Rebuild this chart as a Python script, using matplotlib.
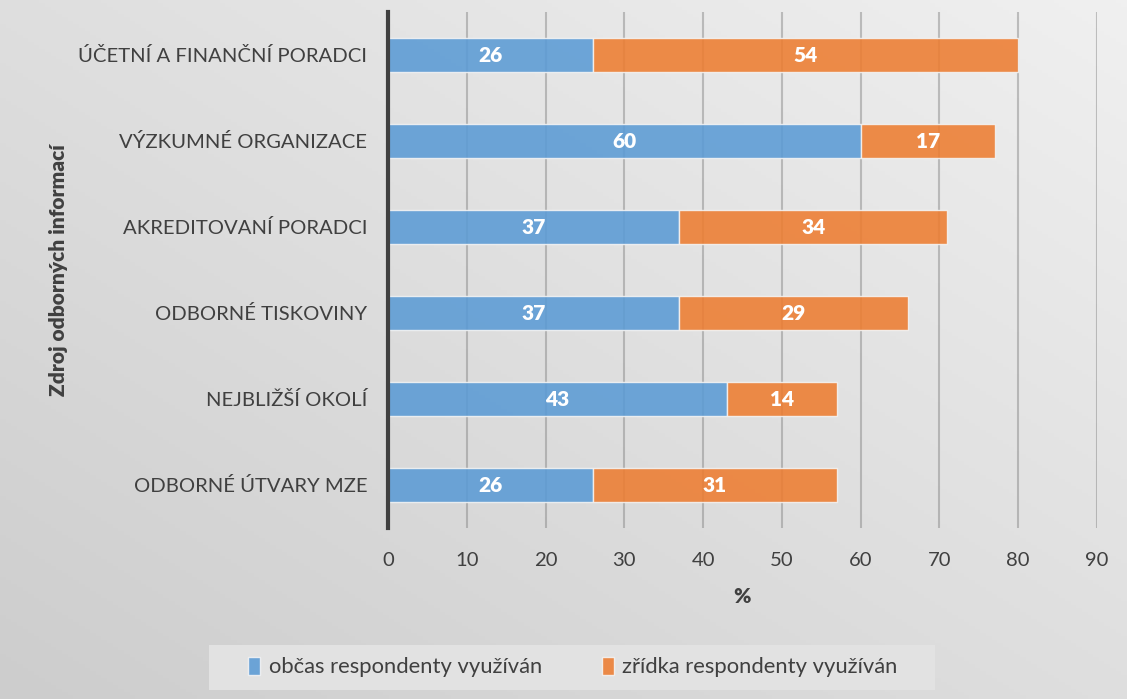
import matplotlib.pyplot as plt
from matplotlib.patches import Rectangle
import numpy as np

categories = ['ODBORNÉ ÚTVARY MZE', 'NEJBLIŽŠÍ OKOLÍ', 'ODBORNÉ TISKOVINY',
              'AKREDITOVANÍ PORADCI', 'VÝZKUMNÉ ORGANIZACE', 'ÚČETNÍ A FINANČNÍ PORADCI']
obcas = [26, 43, 37, 37, 60, 26]
zridka = [31, 14, 29, 34, 17, 54]
series_names = ['občas respondenty využíván', 'zřídka respondenty využíván']

plt.rcParams['font.family'] = ['Lato', 'DejaVu Sans']

fig = plt.figure(figsize=(11.27, 6.99), dpi=100)

# gradient background
bg = fig.add_axes([0, 0, 1, 1], zorder=-10)
gx, gy = np.meshgrid(np.linspace(0, 1, 200), np.linspace(0, 1, 200))
g = (gx + (1 - gy)) / 2
bg.imshow(g, cmap=plt.matplotlib.colors.LinearSegmentedColormap.from_list('bg', ['#cdcdcd', '#f0f0f0']),
          extent=[0, 1, 0, 1], aspect='auto', origin='upper')
bg.axis('off')
# legend box
bg.add_patch(Rectangle((209 / 1127, 1 - 690 / 699), (935 - 209) / 1127, 45 / 699,
                       facecolor='#e2e2e2', edgecolor='none', transform=bg.transAxes, zorder=2))

ax = fig.add_axes([388 / 1127, 1 - 528 / 699, (1097 - 388) / 1127, 516 / 699])
ax.patch.set_alpha(0)

y = np.arange(len(categories))
b1 = ax.barh(y, obcas, height=0.4, color='#5b9bd5', alpha=0.88, edgecolor='#f4f4f4', linewidth=1, zorder=3,
             label=series_names[0])
b2 = ax.barh(y, zridka, left=obcas, height=0.4, color='#ed7d31', alpha=0.88, edgecolor='#f4f4f4', linewidth=1,
             zorder=3, label=series_names[1])

for bars, vals, lefts in [(b1, obcas, [0] * 6), (b2, zridka, obcas)]:
    for yy, v, l in zip(y, vals, lefts):
        ax.text(l + v / 2, yy, str(v), ha='center', va='center', color='white', fontsize=15,
                fontweight='heavy', zorder=4)

ax.set_xlim(0, 90)
ax.set_ylim(-0.5, 5.5)
ax.set_xticks(range(0, 91, 10))
ax.set_yticks(y)
ax.set_yticklabels(categories, fontsize=14.6, color='#404040')
ax.tick_params(axis='x', labelsize=14.6, labelcolor='#404040', length=0, pad=17)
ax.tick_params(axis='y', length=0, pad=15)
for t in range(10, 91, 10):
    ax.axvline(t, color='#808080', alpha=0.45, linewidth=1.5, zorder=1)
for s in ['top', 'right', 'bottom']:
    ax.spines[s].set_visible(False)
ax.spines['left'].set_color('#404040')
ax.spines['left'].set_linewidth(3)
ax.spines['left'].set_zorder(5)

ax.set_xlabel('%', fontsize=15, fontweight='heavy', color='#404040', labelpad=13)
ax.set_ylabel('Zdroj odborných informací', fontsize=15, fontweight='heavy', color='#404040')
ax.yaxis.set_label_coords(-320 / 709, 0.5)

leg = fig.legend(handles=[b1, b2], loc='center', bbox_to_anchor=(573 / 1127, 1 - 667 / 699), ncol=2,
                 fontsize=15.8, frameon=False, handlelength=0.55, handleheight=0.9,
                 handletextpad=0.4, columnspacing=2.7)
for t in leg.get_texts():
    t.set_color('#404040')

fig.savefig('out.png', dpi=100)
